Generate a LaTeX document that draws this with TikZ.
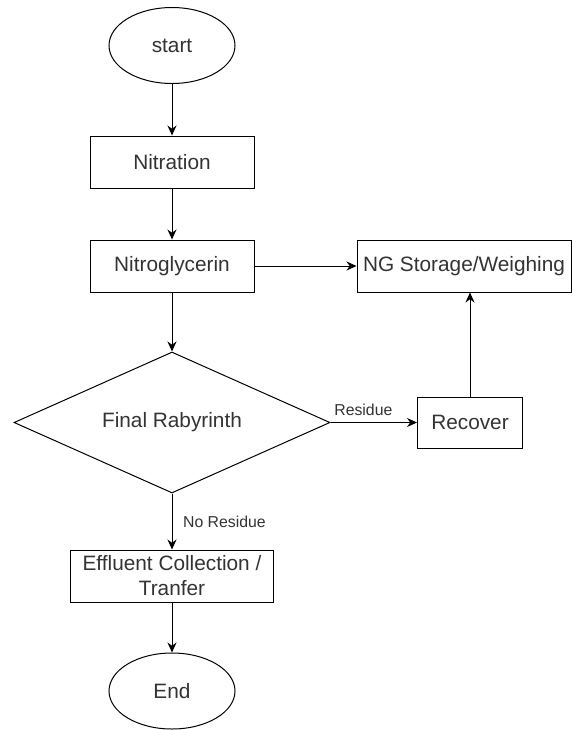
\documentclass[tikz,border=0pt]{standalone}
\usepackage{fontspec}
\setmainfont{Liberation Sans}
\usetikzlibrary{shapes.geometric,arrows.meta}

\begin{document}
\begin{tikzpicture}[x=0.5pt, y=-0.5pt, line width=0.5pt,
    >={Stealth[length=5pt,width=4.5pt]},
    every node/.style={font=\fontsize{10.4}{12.5}\selectfont, text=black!80},
    process/.style={draw, rectangle, inner sep=0pt, align=center, minimum height=26pt},
    terminal/.style={draw, ellipse, inner sep=0pt, minimum width=63pt, minimum height=38pt},
    decision/.style={draw, diamond, aspect=2.24, inner sep=0pt, minimum width=158pt, minimum height=70.5pt},
    flowlabel/.style={font=\fontsize{7.9}{9.5}\selectfont}]

    % Set picture size
    \useasboundingbox (0,0) rectangle (572,730);

    % Draw main column of steps
    \node[terminal] (start) at (172,45.5) {start};
    \node[process, minimum width=82pt] (nitration) at (172,162) {Nitration};
    \node[process, minimum width=82pt] (nitro) at (172,266) {Nitroglycerin};
    \node[decision] (rabyrinth) at (172,422.5) {Final Rabyrinth};
    \node[process, minimum width=101.5pt] (effluent) at (172,576) {Effluent Collection /\\Tranfer};
    \node[terminal] (end) at (172,691) {End};

    % Draw side branch
    \node[process, minimum width=107pt] (storage) at (464,266) {NG Storage/Weighing};
    \node[process, minimum width=52.5pt, minimum height=25.5pt] (recover) at (470,422.5) {Recover};

    % Draw arrows
    \draw[->] (start) -- (nitration);
    \draw[->] (nitration) -- (nitro);
    \draw[->] (nitro) -- (rabyrinth);
    \draw[->] (nitro.east) -- (storage.west);
    \draw[->] (rabyrinth.east) -- (recover.west) node[flowlabel, pos=0.38, above] {Residue};
    \draw[->] (recover.north) -- (recover.north |- storage.south);
    \draw[->] (rabyrinth.south) -- (effluent.north) node[flowlabel, midway, right, xshift=2pt] {No Residue};
    \draw[->] (effluent) -- (end);
\end{tikzpicture}
\end{document}
